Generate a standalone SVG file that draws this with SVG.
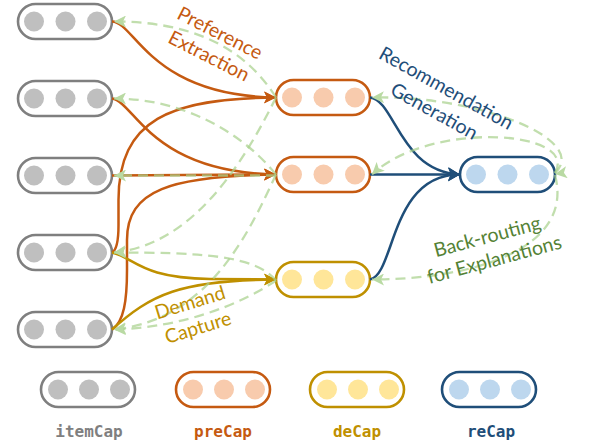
<svg xmlns="http://www.w3.org/2000/svg" width="589" height="446" viewBox="0 0 589 446">
<style>
.pill{fill:#fff;stroke-width:2.6}
.it .pill{stroke:#7F7F7F}.it circle{fill:#BFBFBF}
.pc .pill{stroke:#C55A11}.pc circle{fill:#F8CBAD}
.dc .pill{stroke:#BF9000}.dc circle{fill:#FFE699}
.rc .pill{stroke:#1F4E79}.rc circle{fill:#BDD7EE}
.e{fill:none;stroke-width:2.5}
.o{stroke:#C55A11;marker-end:url(#aO)}
.g{stroke:#BF9000;marker-end:url(#aG)}
.b{stroke:#1F4E79;marker-end:url(#aB)}
.bk{fill:none;stroke:#A9D18E;stroke-opacity:0.72;stroke-width:2.3;stroke-dasharray:10 6;marker-end:url(#aL)}
.lbl{font-family:Lato,"Liberation Sans",sans-serif;font-size:19.5px;text-anchor:middle}
.leg{font-family:"DejaVu Sans Mono","Liberation Mono",monospace;font-size:16px;font-weight:bold;text-anchor:middle}
</style>
<defs>
<marker id="aO" viewBox="0 0 12 12" refX="12" refY="6" markerWidth="12" markerHeight="12" orient="auto" markerUnits="userSpaceOnUse"><path d="M0,0 L12,6 L0,12 L3,6 z" fill="#C55A11"/></marker>
<marker id="aG" viewBox="0 0 12 12" refX="12" refY="6" markerWidth="12" markerHeight="12" orient="auto" markerUnits="userSpaceOnUse"><path d="M0,0 L12,6 L0,12 L3,6 z" fill="#BF9000"/></marker>
<marker id="aB" viewBox="0 0 12 14" refX="12" refY="7" markerWidth="12" markerHeight="14" orient="auto" markerUnits="userSpaceOnUse"><path d="M0,0 L12,7 L0,14 L3,7 z" fill="#1F4E79"/></marker>
<marker id="aL" viewBox="0 0 12 12" refX="12" refY="6" markerWidth="12" markerHeight="12" orient="auto" markerUnits="userSpaceOnUse"><path d="M0,0 L12,6 L0,12 L3,6 z" fill="#B9DAA3"/></marker>
</defs>

<g id="item1" class="it"><rect class="pill" x="18" y="4" width="94" height="35" rx="17.5"/><circle cx="34" cy="21.5" r="10"/><circle cx="65.5" cy="21.5" r="10"/><circle cx="97" cy="21.5" r="10"/></g>
<g id="item2" class="it"><rect class="pill" x="18" y="81" width="94" height="35" rx="17.5"/><circle cx="34" cy="98.5" r="10"/><circle cx="65.5" cy="98.5" r="10"/><circle cx="97" cy="98.5" r="10"/></g>
<g id="item3" class="it"><rect class="pill" x="18" y="158" width="94" height="35" rx="17.5"/><circle cx="34" cy="175.5" r="10"/><circle cx="65.5" cy="175.5" r="10"/><circle cx="97" cy="175.5" r="10"/></g>
<g id="item4" class="it"><rect class="pill" x="18" y="235" width="94" height="35" rx="17.5"/><circle cx="34" cy="252.5" r="10"/><circle cx="65.5" cy="252.5" r="10"/><circle cx="97" cy="252.5" r="10"/></g>
<g id="item5" class="it"><rect class="pill" x="18" y="312" width="94" height="35" rx="17.5"/><circle cx="34" cy="329.5" r="10"/><circle cx="65.5" cy="329.5" r="10"/><circle cx="97" cy="329.5" r="10"/></g>

<g id="pre1" class="pc"><rect class="pill" x="276" y="80" width="94" height="35" rx="17.5"/><circle cx="292" cy="97.5" r="10"/><circle cx="323.5" cy="97.5" r="10"/><circle cx="355" cy="97.5" r="10"/></g>
<g id="pre2" class="pc"><rect class="pill" x="276" y="157" width="94" height="35" rx="17.5"/><circle cx="292" cy="174.5" r="10"/><circle cx="323.5" cy="174.5" r="10"/><circle cx="355" cy="174.5" r="10"/></g>
<g id="de1" class="dc"><rect class="pill" x="276" y="262" width="94" height="35" rx="17.5"/><circle cx="292" cy="279.5" r="10"/><circle cx="323.5" cy="279.5" r="10"/><circle cx="355" cy="279.5" r="10"/></g>
<g id="re1" class="rc"><rect class="pill" x="460" y="157" width="95" height="35" rx="17.5"/><circle cx="476" cy="174.5" r="10"/><circle cx="507.5" cy="174.5" r="10"/><circle cx="539" cy="174.5" r="10"/></g>

<g id="connectors">
<path class="e o" d="M112,21.5 C135,22 150,96 276,97.5"/>
<path class="e o" d="M112,98.5 C135,102 150,172 276,174.5"/>
<path class="e o" d="M112,175.5 L276,174.5"/>
<path class="e o" d="M112,252.5 C117,250 118.5,240 118.5,225 L118.5,200 C118.5,120 170,98 276,97.5"/>
<path class="e o" d="M112,329.5 C124,322 127,300 127,270 L127,240 C127,190 170,176 276,174.5"/>
<path class="e g" d="M112,252.5 C135,258 140,278 210,279 L276,279.5"/>
<path class="e g" d="M112,329.5 C150,295 180,280 276,279.5"/>
<path class="e b" d="M370,97.5 C395,100 400,172 460,174.5"/>
<path class="e b" d="M370,174.5 L460,174.5"/>
<path class="e b" d="M370,279.5 C395,275 390,174 460,174.5"/>

<path class="bk" d="M276,97.5 C240,40 180,21.5 114,21.5"/>
<path class="bk" d="M276,174.5 C240,130 180,98.5 114,98.5"/>
<path class="bk" d="M276,175.5 L114,175.5"/>
<path class="bk" d="M276,97.5 C240,170 190,245 114,252.5"/>
<path class="bk" d="M276,174.5 C250,230 210,320 114,329.5"/>
<path class="bk" d="M276,280.5 C255,255 200,252.5 114,252.5"/>
<path class="bk" d="M276,280.5 C240,305 180,328 114,329.5"/>
<path class="bk" d="M555,173 C590,140 480,95 372,97.5"/>
<path class="bk" d="M555,173 C580,130 430,120 372,174.5"/>
<path class="bk" d="M555,175 C575,250 470,279.5 372,279.5"/>
<path d="M575,171 L555,174" fill="none" stroke="none" marker-end="url(#aL)"/>
</g>

<g id="labels">
<text class="lbl" fill="#C55A11" transform="translate(217,39) rotate(27)">Preference</text>
<text class="lbl" fill="#C55A11" transform="translate(206,62) rotate(27)">Extraction</text>
<text class="lbl" fill="#1F4E79" transform="translate(443,94) rotate(29)">Recommendation</text>
<text class="lbl" fill="#1F4E79" transform="translate(431,117) rotate(29)">Generation</text>
<text class="lbl" fill="#BF9000" transform="translate(192,309) rotate(-17)">Demand</text>
<text class="lbl" fill="#BF9000" transform="translate(200,334) rotate(-17)">Capture</text>
<text class="lbl" fill="#548235" transform="translate(489,243) rotate(-15)">Back-routing</text>
<text class="lbl" fill="#548235" transform="translate(496,266) rotate(-15)">for Explanations</text>
</g>

<g id="legend-item" class="it"><rect class="pill" x="41" y="372" width="94" height="35" rx="17.5"/><circle cx="58" cy="389.5" r="10"/><circle cx="89" cy="389.5" r="10"/><circle cx="120" cy="389.5" r="10"/><text class="leg" x="89" y="437" fill="#7F7F7F">itemCap</text></g>
<g id="legend-pre" class="pc"><rect class="pill" x="176" y="372" width="94" height="35" rx="17.5"/><circle cx="193" cy="389.5" r="10"/><circle cx="224" cy="389.5" r="10"/><circle cx="255" cy="389.5" r="10"/><text class="leg" x="223" y="437" fill="#C55A11">preCap</text></g>
<g id="legend-de" class="dc"><rect class="pill" x="310" y="372" width="94" height="35" rx="17.5"/><circle cx="327" cy="389.5" r="10"/><circle cx="358" cy="389.5" r="10"/><circle cx="389" cy="389.5" r="10"/><text class="leg" x="357" y="437" fill="#BF9000">deCap</text></g>
<g id="legend-re" class="rc"><rect class="pill" x="442" y="372" width="94" height="35" rx="17.5"/><circle cx="459" cy="389.5" r="10"/><circle cx="490" cy="389.5" r="10"/><circle cx="521" cy="389.5" r="10"/><text class="leg" x="491" y="437" fill="#1F4E79">reCap</text></g>
</svg>
